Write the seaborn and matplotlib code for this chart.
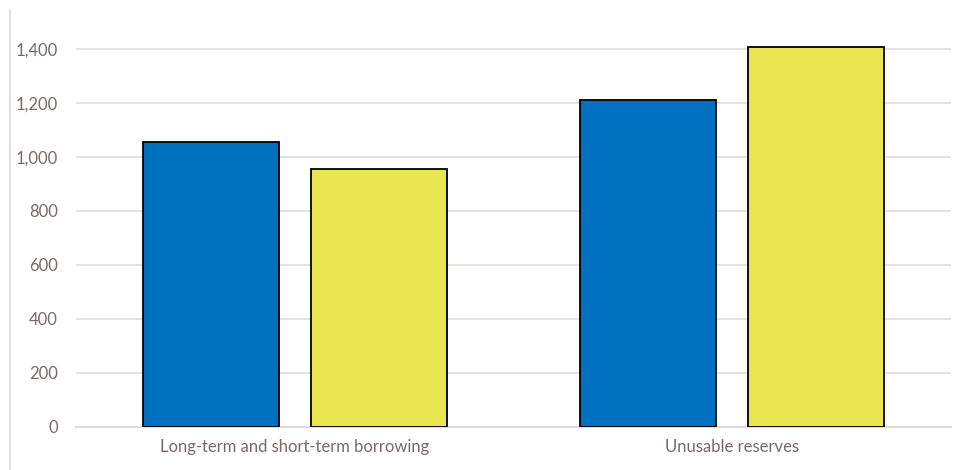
import matplotlib
matplotlib.use("Agg")
import matplotlib.pyplot as plt
import seaborn as sns
import pandas as pd
from matplotlib.lines import Line2D
from matplotlib.ticker import FuncFormatter

categories = ["Long-term and short-term borrowing", "Unusable reserves"]
series_names = ["Series 1", "Series 2"]
series1 = [1055, 1211]
series2 = [955, 1408]
yticks = [0, 200, 400, 600, 800, 1000, 1200, 1400]

df = pd.DataFrame({
    "category": categories * 2,
    "series": [series_names[0]] * 2 + [series_names[1]] * 2,
    "value": series1 + series2,
})

sns.set_theme(style="white")
plt.rcParams["font.family"] = ["Lato", "DejaVu Sans"]

fig = plt.figure(figsize=(9.77, 4.70), dpi=100)
ax = fig.add_axes([0.0778, 0.0915, 0.8955, 0.8235])

sns.barplot(data=df, x="category", y="value", hue="series", order=categories,
            hue_order=series_names, palette=["#0070C0", "#E9E652"],
            width=0.768, gap=0.19, edgecolor="black", linewidth=1.3,
            saturation=1, legend=False, ax=ax, zorder=3)

ax.set_xlim(-0.5, 1.5)
ax.set_ylim(0, 1433)
ax.set_yticks(yticks)
ax.yaxis.set_major_formatter(FuncFormatter(lambda v, p: f"{int(v):,}"))
ax.grid(axis="y", color="#E6E1DF", linewidth=1.4, zorder=0)
ax.set_axisbelow(True)
for s in ["top", "right", "left"]:
    ax.spines[s].set_visible(False)
ax.spines["bottom"].set_color("#E0DCDA")
ax.spines["bottom"].set_linewidth(1.6)
ax.set_xlabel("")
ax.set_ylabel("")
ax.tick_params(axis="both", length=0, labelsize=12, labelcolor="#7A6A66")
ax.tick_params(axis="y", pad=13)
ax.tick_params(axis="x", pad=9)

fig.add_artist(Line2D([0.0107, 0.0107], [0.0, 0.979], transform=fig.transFigure,
                      color="#E3DFDD", linewidth=1.4))

fig.savefig("out.png", dpi=100)
